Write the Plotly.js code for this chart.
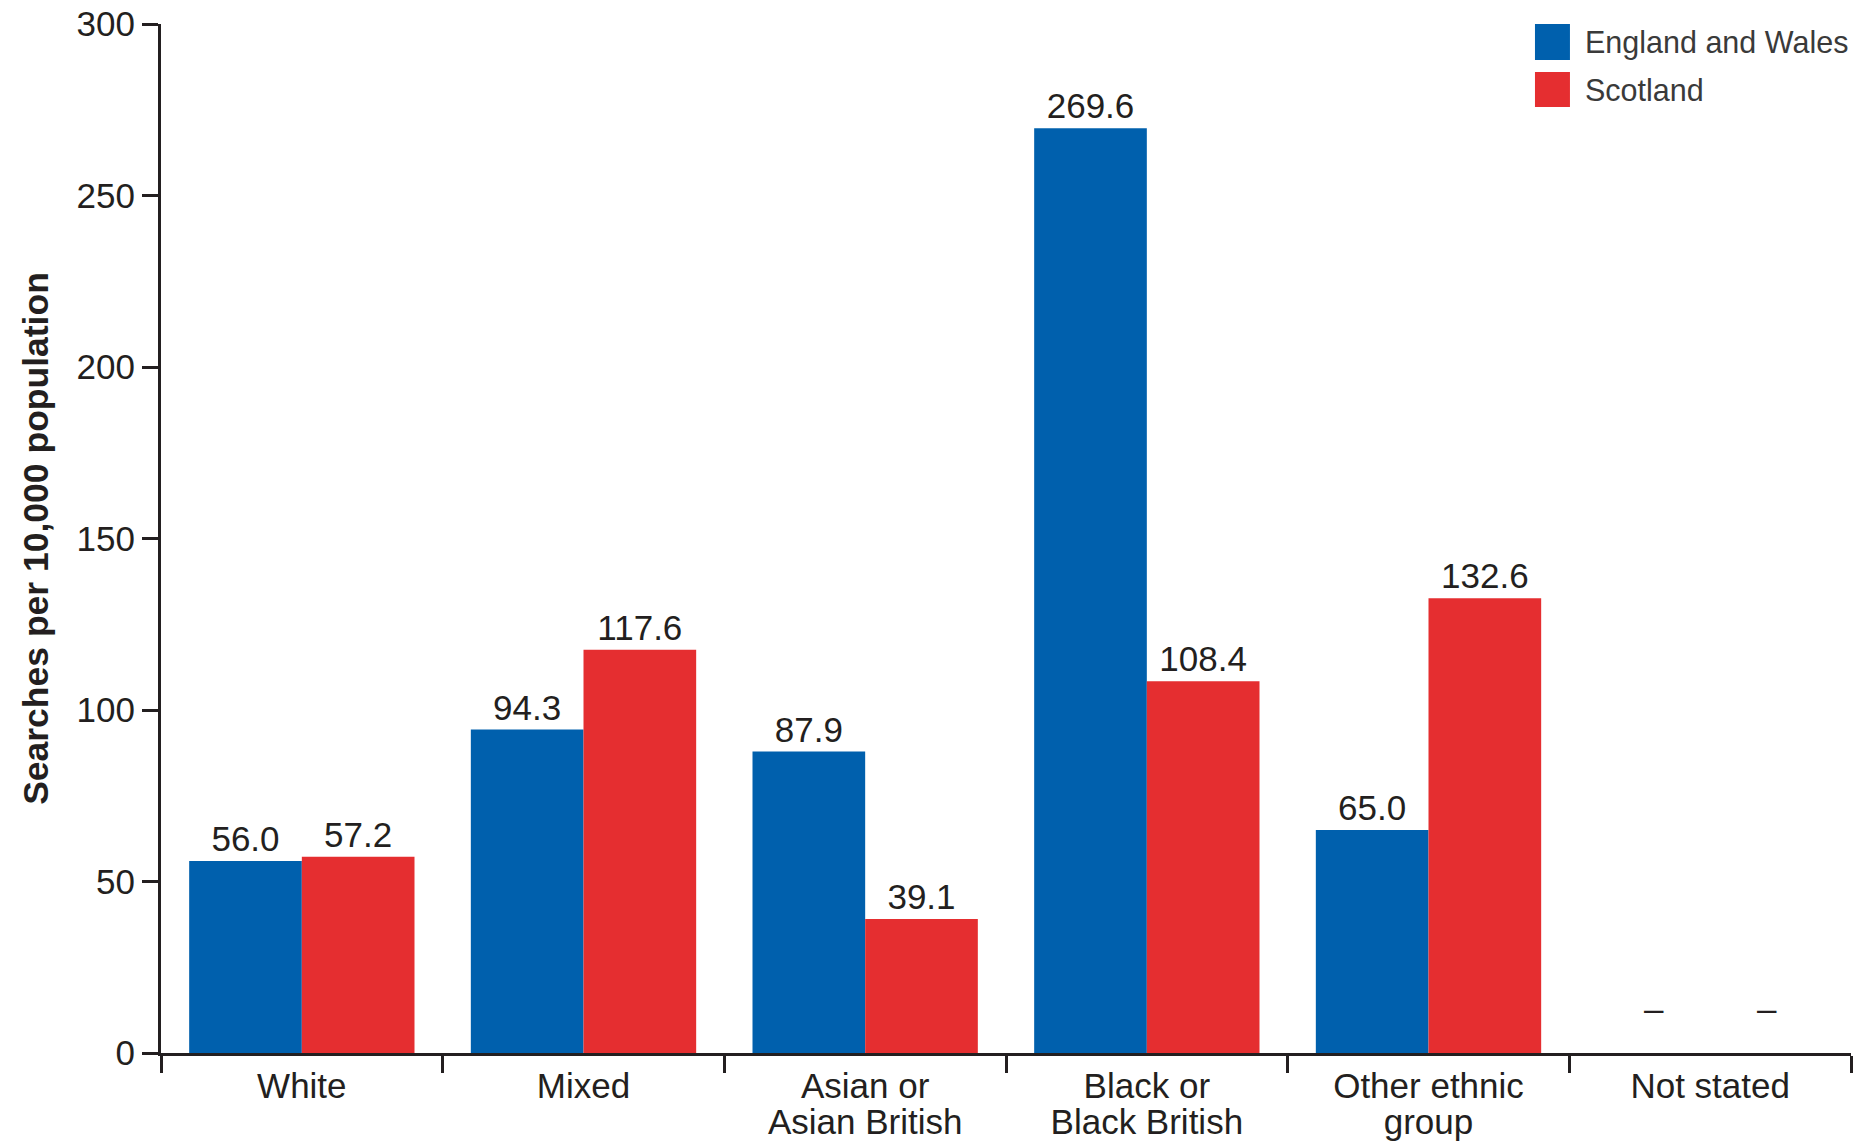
<!DOCTYPE html>
<html>
<head>
<meta charset="utf-8">
<script src="https://cdn.plot.ly/plotly-3.0.1.min.js"></script>
<style>
  html, body { margin: 0; padding: 0; background: #ffffff; }
  #chart { width: 1857px; height: 1145px; }
</style>
</head>
<body>
<div id="chart"></div>
<script>
// Stop and search rates by ethnic group, per 10,000 population
const categories = ['White', 'Mixed', 'Asian or<br>Asian British', 'Black or<br>Black British', 'Other ethnic<br>group', 'Not stated'];
const seriesNames = ['England and Wales', 'Scotland'];
const englandWales = [56.0, 94.3, 87.9, 269.6, 65.0, null];
const scotland = [57.2, 117.6, 39.1, 108.4, 132.6, null];
const yTicks = [0, 50, 100, 150, 200, 250, 300];

const ink = '#231f20';
const colours = ['#0060ad', '#e52e30'];
const fontFamily = '"Liberation Sans", Arial, Helvetica, sans-serif';

const labelOf = v => (v === null ? '' : v.toFixed(1));

const traces = [englandWales, scotland].map((vals, i) => ({
  type: 'bar',
  name: seriesNames[i],
  x: categories,
  y: vals,
  marker: { color: colours[i], line: { width: 0 } },
  text: vals.map(labelOf),
  textposition: 'outside',
  constraintext: 'none',
  cliponaxis: false,
  textfont: { family: fontFamily, size: 35, color: ink },
  hoverinfo: 'skip',
  showlegend: false
}));

// Dashes for groups with no figure
const annotations = [];
[englandWales, scotland].forEach((vals, s) => {
  vals.forEach((v, i) => {
    if (v === null) {
      annotations.push({
        xref: 'x', yref: 'y',
        x: i + (s === 0 ? -0.2 : 0.2), y: 13,
        text: '–', showarrow: false,
        xanchor: 'center', yanchor: 'middle',
        font: { family: fontFamily, size: 35, color: ink }
      });
    }
  });
});

// Legend swatches and labels
const shapes = [];
const legendRows = [
  { y0: 0.9650, y1: 1.0, mid: 0.9825 },
  { y0: 0.9193, y1: 0.9534, mid: 0.9363 }
];
seriesNames.forEach((name, i) => {
  shapes.push({
    type: 'rect', xref: 'paper', yref: 'paper',
    x0: 0.8130, x1: 0.8337, y0: legendRows[i].y0, y1: legendRows[i].y1,
    fillcolor: colours[i], line: { width: 0 }
  });
  annotations.push({
    xref: 'paper', yref: 'paper',
    x: 0.8412, y: legendRows[i].mid,
    xanchor: 'left', yanchor: 'middle',
    text: name, showarrow: false,
    font: { family: fontFamily, size: 30.5, color: '#3a3a3a' }
  });
});

const layout = {
  width: 1857,
  height: 1145,
  margin: { l: 161, r: 6, t: 24, b: 92 },
  paper_bgcolor: '#ffffff',
  plot_bgcolor: '#ffffff',
  font: { family: fontFamily, color: ink },
  barmode: 'group',
  bargap: 0.2,
  bargroupgap: 0,
  showlegend: false,
  xaxis: {
    type: 'category',
    range: [-0.5, 5.5],
    showgrid: false,
    zeroline: false,
    showline: true,
    linewidth: 3,
    linecolor: ink,
    ticks: 'outside',
    tickson: 'boundaries',
    ticklen: 17,
    tickwidth: 3,
    tickcolor: ink,
    tickangle: 0,
    tickfont: { family: fontFamily, size: 35, color: ink },
    automargin: false,
    fixedrange: true
  },
  yaxis: {
    range: [0, 300],
    tickvals: yTicks,
    ticktext: yTicks.map(String),
    showgrid: false,
    zeroline: false,
    showline: true,
    linewidth: 3,
    linecolor: ink,
    ticks: 'outside',
    ticklen: 16,
    tickwidth: 3,
    tickcolor: ink,
    tickfont: { family: fontFamily, size: 35, color: ink },
    title: {
      text: 'Searches per 10,000 population',
      font: { family: fontFamily, size: 35.5, color: ink, weight: 'bold' },
      standoff: 18
    },
    automargin: false,
    fixedrange: true
  },
  shapes: shapes,
  annotations: annotations
};

// Tighter line spacing for two-line category labels
function tightenCategoryLabels(gd) {
  gd.querySelectorAll('.xtick text').forEach(t => {
    t.querySelectorAll('tspan.line').forEach((ts, i) => {
      ts.setAttribute('dy', (i * 1.02) + 'em');
    });
  });
}

const gd = document.getElementById('chart');
Plotly.newPlot(gd, traces, layout, { staticPlot: true, displayModeBar: false })
  .then(() => tightenCategoryLabels(gd));
</script>
</body>
</html>
